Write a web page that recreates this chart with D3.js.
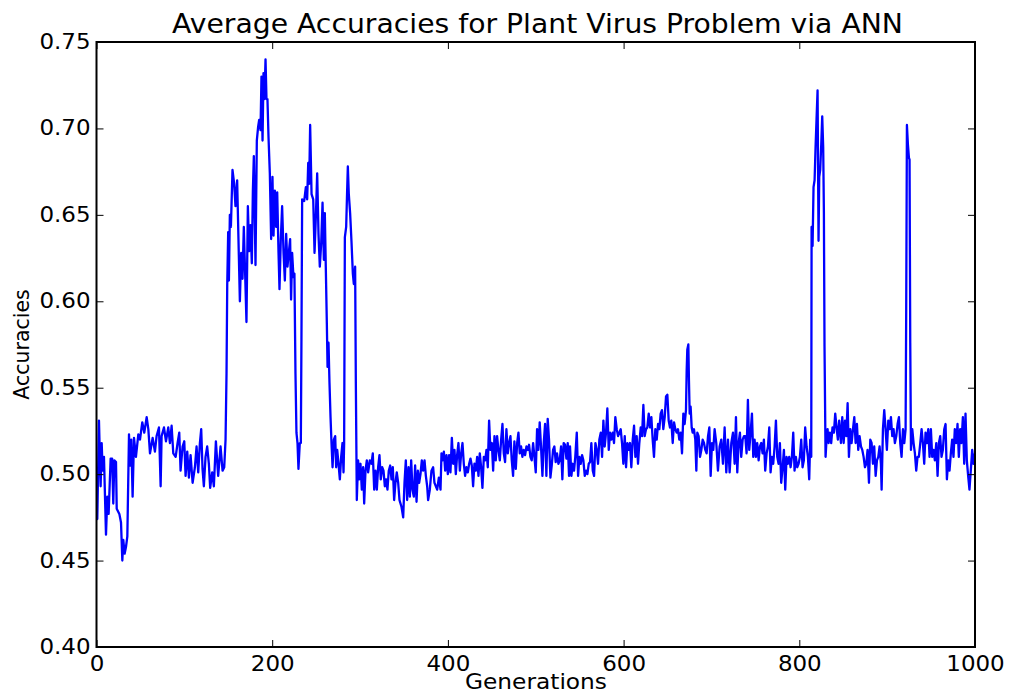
<!DOCTYPE html>
<html>
<head>
<meta charset="utf-8">
<script src="https://cdn.jsdelivr.net/npm/d3@7"></script>
<style>
  body { margin: 0; background: #fff; }
  text { font-family: "DejaVu Sans", sans-serif; }
</style>
</head>
<body>
<svg id="mainsvg" width="1009" height="695"></svg>
<script>
// generations (not every generation, roughly every 1.5)
const generations = [
  0, 0.9, 2.8, 4.7, 5.9, 7, 8.5, 10.8, 12.3, 13.8, 16.1, 17.8, 19.1, 20.3, 22.2, 23, 26, 27.9, 29.4, 30.5,
  32, 33.6, 35.1, 37, 38.1, 39.6, 41.1, 42.7, 44.9, 47.6, 49.5, 52.1, 54.4, 57.1, 59, 60.9, 63.9, 66.5, 68.4, 71.1,
  73, 74.1, 76.8, 79.1, 81.7, 83.6, 85.5, 87.4, 90.1, 92.3, 94.2, 95.7, 98, 99.9, 101.4, 103.3, 105.2, 107.1, 109.4, 112,
  113.9, 115.8, 117.7, 119.2, 120.7, 122.2, 124.1, 126, 127.9, 129.4, 131.7, 133.6, 135.9, 138.5, 141.2, 143.5, 145.4, 146.9, 148, 148.8,
  149.9, 150.7, 151.8, 153, 154.8, 156.7, 158.2, 160.1, 161.6, 163.2, 164.7, 166.2, 167.7, 169.2, 170.7, 172.3, 173.8, 175.3, 176.8, 178,
  179.1, 181, 182.5, 184, 185.2, 186.7, 187.8, 189, 190.1, 191.2, 192.4, 193.5, 194.6, 195.8, 197.3, 198.8, 200.3, 201.5, 203, 204.5,
  205.7, 207.2, 208.3, 209.8, 211.3, 212.9, 214.4, 215.9, 217.4, 218.9, 220.4, 221.5, 222.7, 224.2, 225.3, 226.5, 227.6, 228.8, 229.9, 231.4,
  232.6, 233.3, 234.1, 236.4, 238.3, 239.8, 241, 242.1, 243.2, 244.8, 246.7, 248.2, 249.7, 251.2, 252.7, 254.2, 255.8, 257.3, 258.8, 259.9,
  261, 262.2, 263, 264.1, 265.2, 266.4, 267.5, 268.7, 270.2, 271.7, 272.8, 274, 275.5, 277, 278.5, 280, 281.2, 281.9, 282.7, 284.2,
  285.3, 286.1, 287.2, 288.7, 290.3, 291.8, 292.9, 294.4, 295.2, 296.3, 297.8, 299, 300.5, 302, 303.5, 304.7, 306.2, 307.7, 309.2, 311.1,
  313, 314.5, 316.1, 317.6, 319.1, 320.6, 322.1, 323.6, 325.2, 326.7, 328.2, 329.7, 331.2, 332.7, 334.3, 335.8, 337.3, 338.8, 340.3, 341.8,
  343.4, 344.9, 347.2, 349.1, 350.6, 352.1, 353.6, 355.2, 356.7, 358.2, 359.7, 361.2, 362.7, 364.3, 365.8, 367.3, 368.8, 370.3, 371.8, 373.4,
  374.9, 376.4, 377.5, 379.4, 381.3, 383.2, 384.7, 386.3, 387.8, 389.7, 391.6, 392.7, 393.8, 395.4, 396.9, 398.4, 399.9, 401.4, 402.9, 404.5,
  406, 407.5, 409, 410.5, 412, 413.6, 415.1, 416.6, 418.1, 419.6, 421.1, 422.7, 424.2, 425.7, 427.2, 428.7, 430.2, 431.8, 433.3, 434.8,
  436.3, 437.8, 439.3, 440.9, 442.4, 443.9, 445.4, 446.9, 448.4, 450, 451.5, 453, 454.5, 456, 457.5, 459.1, 460.6, 462.1, 463.6, 465.1,
  466.6, 468.2, 469.7, 471.2, 472.7, 474.2, 475.7, 477.3, 478.8, 480.3, 481.8, 483.3, 484.8, 486.3, 487.9, 489.4, 490.9, 492.4, 493.9, 495.4,
  497, 498.5, 500, 501.5, 503, 504.5, 506, 507.6, 509.1, 510.6, 512.1, 513.6, 515.1, 516.7, 518.2, 519.7, 521.2, 522.7, 524.2, 525.8,
  527.3, 528.8, 530.3, 531.8, 533.3, 534.9, 536.4, 537.9, 539, 540.6, 542, 543.6, 545, 546.7, 548.2, 549.7, 551.2, 552.7, 554.2, 555.8,
  557.3, 558.8, 560.3, 561.8, 563.3, 564.9, 566.4, 567.9, 569.4, 570.9, 572.4, 574, 575.5, 577, 578.5, 580, 581.5, 583.1, 584.6, 586.1,
  587.6, 589.1, 590.6, 592.2, 593.7, 595.2, 596.7, 598.2, 599.7, 601.3, 602.8, 604.3, 605.8, 607.3, 608.8, 610.4, 611.9, 613.4, 614.9, 616.4,
  617.9, 619.5, 621, 622.5, 624, 625.5, 627, 628.6, 630.1, 631.6, 633.1, 634.6, 636.1, 637.7, 639.2, 640.7, 642.2, 643.7, 645.2, 646.8,
  648.3, 649.8, 651.3, 652.8, 654.3, 655.9, 657.4, 658.9, 660.4, 661.9, 663.4, 665, 666.5, 668, 669.5, 671, 671.8, 672.5, 673.7, 674.4,
  675.2, 676.3, 677.5, 678.6, 680.1, 681.6, 682.8, 683.9, 685.4, 687, 688.5, 690, 691.5, 693, 694.5, 696.1, 697.6, 699.1, 700.6, 702.1,
  703.6, 705.5, 707.4, 709.3, 711.2, 713.1, 715, 716.9, 718.8, 720.7, 722.6, 724.5, 726.4, 727.9, 729.4, 730.9, 732.4, 733.9, 735.5, 737,
  738.5, 740, 741.5, 743, 744.6, 746.1, 747.6, 749.1, 750.6, 752.1, 753.7, 755.2, 756.7, 758.2, 759.7, 761.2, 762.8, 764.3, 765.8, 767.3,
  768.8, 770.3, 771.9, 773.4, 774.9, 776.4, 777.9, 779.4, 781, 782.5, 784, 785.5, 787, 788.5, 790.1, 791.6, 793.1, 794.6, 796.1, 797.6,
  799.2, 800.7, 802.2, 803.7, 805.2, 806.7, 808.3, 809.8, 811.3, 812.4, 813.6, 814, 815.1, 816.2, 817.4, 818.5, 819.6, 820.8, 821.9, 822.7,
  823.8, 825, 826.1, 827.2, 828, 828.7, 829.9, 831, 832.2, 833.3, 834.8, 836.3, 837.8, 839.4, 840.9, 842.4, 843.9, 845.4, 847.4, 848.9,
  850.5, 852, 853.5, 855, 856.5, 858, 859.5, 861.1, 862.6, 864.1, 865.6, 867.1, 868.6, 870.2, 871.7, 873.2, 874.7, 876.2, 877.7, 879.3,
  880.8, 882.3, 883.8, 885.3, 886.9, 888.4, 889.9, 891.4, 892.9, 893.7, 895.2, 896.7, 898.2, 899.7, 901.3, 902.8, 904.3, 905.8, 907.3, 908.8,
  910.4, 911.9, 913.4, 914.9, 916.4, 918, 919.5, 921, 921.7, 922.5, 923.6, 924.8, 925.5, 926.3, 927.1, 928.6, 930.1, 931.6, 933.1, 934.6,
  936.1, 937.7, 939.2, 940.7, 942.2, 943.7, 945.2, 946.8, 948.3, 949.8, 951.3, 952.8, 954.3, 955.9, 957.4, 958.9, 960.4, 961.9, 963.4, 965,
  966.5, 968, 969.5, 971, 972.5, 974, 975.5, 977, 978.6, 980.1, 981.6, 983.1, 984.6, 986.2, 987.7, 989.2, 990.7, 992.2, 993.7, 995.2,
  996.8, 998.3, 999.5
]

const accuracies = [
  0.474, 0.474, 0.531, 0.493, 0.518, 0.502, 0.510, 0.465, 0.487, 0.477, 0.509, 0.509, 0.483, 0.508, 0.507, 0.480, 0.477, 0.472, 0.450, 0.462,
  0.454, 0.458, 0.464, 0.523, 0.505, 0.520, 0.487, 0.521, 0.510, 0.523, 0.520, 0.530, 0.524, 0.533, 0.526, 0.512, 0.521, 0.513, 0.522, 0.527,
  0.493, 0.522, 0.527, 0.519, 0.527, 0.518, 0.528, 0.512, 0.510, 0.518, 0.524, 0.502, 0.516, 0.519, 0.499, 0.513, 0.498, 0.511, 0.495, 0.504,
  0.516, 0.501, 0.518, 0.526, 0.503, 0.493, 0.510, 0.516, 0.506, 0.492, 0.501, 0.493, 0.519, 0.499, 0.516, 0.502, 0.504, 0.520, 0.558, 0.609,
  0.640, 0.612, 0.650, 0.643, 0.676, 0.668, 0.655, 0.670, 0.636, 0.600, 0.628, 0.613, 0.643, 0.616, 0.588, 0.655, 0.629, 0.644, 0.622, 0.664,
  0.684, 0.621, 0.693, 0.701, 0.705, 0.699, 0.730, 0.693, 0.732, 0.717, 0.740, 0.717, 0.717, 0.695, 0.674, 0.636, 0.672, 0.638, 0.664, 0.643,
  0.663, 0.628, 0.607, 0.636, 0.655, 0.628, 0.612, 0.639, 0.620, 0.628, 0.636, 0.601, 0.628, 0.614, 0.616, 0.558, 0.524, 0.518, 0.503, 0.518,
  0.518, 0.578, 0.659, 0.658, 0.666, 0.659, 0.680, 0.668, 0.702, 0.662, 0.659, 0.628, 0.649, 0.674, 0.639, 0.620, 0.634, 0.657, 0.624, 0.651,
  0.620, 0.587, 0.562, 0.576, 0.553, 0.533, 0.518, 0.504, 0.520, 0.522, 0.504, 0.514, 0.506, 0.497, 0.510, 0.518, 0.501, 0.518, 0.637, 0.643,
  0.664, 0.678, 0.662, 0.651, 0.634, 0.616, 0.610, 0.620, 0.553, 0.485, 0.508, 0.497, 0.506, 0.491, 0.504, 0.483, 0.502, 0.508, 0.501, 0.508,
  0.506, 0.512, 0.491, 0.502, 0.491, 0.504, 0.511, 0.497, 0.504, 0.502, 0.493, 0.497, 0.491, 0.502, 0.505, 0.497, 0.504, 0.485, 0.495, 0.501,
  0.495, 0.485, 0.481, 0.475, 0.495, 0.508, 0.485, 0.504, 0.487, 0.508, 0.491, 0.487, 0.505, 0.484, 0.502, 0.495, 0.500, 0.508, 0.502, 0.508,
  0.499, 0.493, 0.485, 0.491, 0.502, 0.504, 0.495, 0.493, 0.491, 0.498, 0.491, 0.512, 0.508, 0.513, 0.502, 0.511, 0.500, 0.511, 0.501, 0.521,
  0.506, 0.514, 0.500, 0.511, 0.518, 0.502, 0.512, 0.518, 0.506, 0.499, 0.504, 0.501, 0.506, 0.509, 0.505, 0.493, 0.506, 0.502, 0.510, 0.499,
  0.512, 0.504, 0.492, 0.510, 0.508, 0.514, 0.504, 0.531, 0.514, 0.518, 0.502, 0.522, 0.508, 0.522, 0.514, 0.508, 0.520, 0.529, 0.512, 0.507,
  0.526, 0.512, 0.518, 0.522, 0.508, 0.499, 0.519, 0.503, 0.518, 0.524, 0.512, 0.516, 0.510, 0.514, 0.511, 0.516, 0.514, 0.517, 0.510, 0.508,
  0.518, 0.510, 0.501, 0.526, 0.514, 0.530, 0.516, 0.499, 0.518, 0.529, 0.499, 0.532, 0.520, 0.498, 0.505, 0.514, 0.516, 0.507, 0.512, 0.506,
  0.508, 0.516, 0.497, 0.518, 0.517, 0.509, 0.518, 0.499, 0.516, 0.499, 0.506, 0.502, 0.510, 0.524, 0.499, 0.510, 0.506, 0.511, 0.508, 0.499,
  0.502, 0.500, 0.506, 0.507, 0.518, 0.502, 0.499, 0.518, 0.514, 0.506, 0.520, 0.524, 0.510, 0.531, 0.516, 0.524, 0.538, 0.514, 0.524, 0.520,
  0.524, 0.518, 0.533, 0.526, 0.522, 0.524, 0.526, 0.518, 0.506, 0.522, 0.504, 0.518, 0.514, 0.518, 0.504, 0.520, 0.528, 0.510, 0.522, 0.506,
  0.518, 0.527, 0.522, 0.540, 0.522, 0.526, 0.527, 0.535, 0.527, 0.533, 0.520, 0.510, 0.526, 0.520, 0.529, 0.526, 0.535, 0.537, 0.526, 0.533,
  0.545, 0.546, 0.531, 0.527, 0.531, 0.518, 0.530, 0.526, 0.524, 0.526, 0.520, 0.524, 0.512, 0.535, 0.529, 0.537, 0.560, 0.572, 0.575, 0.554,
  0.535, 0.539, 0.527, 0.524, 0.526, 0.520, 0.502, 0.524, 0.522, 0.510, 0.514, 0.520, 0.518, 0.514, 0.512, 0.522, 0.527, 0.499, 0.518, 0.514,
  0.526, 0.518, 0.502, 0.516, 0.520, 0.506, 0.527, 0.501, 0.520, 0.501, 0.518, 0.524, 0.506, 0.533, 0.501, 0.518, 0.524, 0.510, 0.520, 0.522,
  0.522, 0.512, 0.543, 0.514, 0.524, 0.535, 0.510, 0.520, 0.510, 0.518, 0.508, 0.516, 0.518, 0.512, 0.520, 0.502, 0.512, 0.516, 0.527, 0.501,
  0.510, 0.506, 0.516, 0.531, 0.510, 0.506, 0.518, 0.495, 0.504, 0.514, 0.491, 0.510, 0.506, 0.510, 0.504, 0.510, 0.524, 0.502, 0.510, 0.504,
  0.506, 0.510, 0.520, 0.504, 0.508, 0.527, 0.516, 0.510, 0.497, 0.520, 0.510, 0.643, 0.632, 0.666, 0.670, 0.689, 0.705, 0.722, 0.635, 0.672,
  0.676, 0.691, 0.707, 0.689, 0.651, 0.574, 0.510, 0.520, 0.526, 0.518, 0.524, 0.518, 0.527, 0.524, 0.535, 0.527, 0.520, 0.531, 0.518, 0.533,
  0.518, 0.531, 0.522, 0.541, 0.510, 0.526, 0.518, 0.526, 0.533, 0.518, 0.529, 0.514, 0.522, 0.516, 0.514, 0.510, 0.504, 0.506, 0.514, 0.495,
  0.520, 0.518, 0.506, 0.516, 0.499, 0.508, 0.510, 0.516, 0.506, 0.491, 0.526, 0.537, 0.526, 0.514, 0.531, 0.526, 0.533, 0.522, 0.526, 0.518,
  0.522, 0.529, 0.533, 0.518, 0.510, 0.526, 0.518, 0.526, 0.595, 0.702, 0.691, 0.683, 0.682, 0.576, 0.514, 0.526, 0.518, 0.512, 0.502, 0.510,
  0.510, 0.518, 0.526, 0.518, 0.506, 0.524, 0.518, 0.526, 0.510, 0.526, 0.510, 0.514, 0.508, 0.518, 0.499, 0.518, 0.522, 0.510, 0.514, 0.526,
  0.529, 0.497, 0.508, 0.502, 0.512, 0.520, 0.510, 0.526, 0.518, 0.529, 0.510, 0.526, 0.518, 0.533, 0.506, 0.535, 0.508, 0.499, 0.491, 0.502,
  0.514, 0.506, 0.512
]

const xTicks = [0, 200, 400, 600, 800, 1000]
const yTicks = [0.40, 0.45, 0.50, 0.55, 0.60, 0.65, 0.70, 0.75]
const title = 'Average Accuracies for Plant Virus Problem via ANN'
const xLabel = 'Generations'
const yLabel = 'Accuracies'

let margin = {left: 96.5, right: 975, top: 42, bottom: 647}

const svg = d3.select('#mainsvg')

let x = d3.scaleLinear().domain([0, 1000]).range([margin.left, margin.right])
let y = d3.scaleLinear().domain([0.40, 0.75]).range([margin.bottom, margin.top])

let data = generations.map((g, i) => [g, accuracies[i]])

svg.append('path')
  .datum(data)
  .attr('d', d3.line().x(d => x(d[0])).y(d => y(d[1])))
  .attr('fill', 'none')
  .attr('stroke', '#0000ff')
  .attr('stroke-width', 2.3)
  .attr('stroke-linejoin', 'round')

// the reference text is a bit wider than plain DejaVu, stretch it sideways
function widen(sel, k){
  sel.each(function(){
    let w = this.getComputedTextLength()
    d3.select(this).attr('textLength', w * k).attr('lengthAdjust', 'spacingAndGlyphs')
  })
}

// ticks point inward on all four sides, like old matplotlib
let tickLen = 7
let tickFont = '20.5px'

let bottomAxis = d3.axisBottom(x).tickValues(xTicks).tickSizeInner(-tickLen).tickSizeOuter(0).tickPadding(9).tickFormat(d3.format('d'))
let topAxis = d3.axisTop(x).tickValues(xTicks).tickSizeInner(-tickLen).tickSizeOuter(0).tickFormat('')
let leftAxis = d3.axisLeft(y).tickValues(yTicks).tickSizeInner(-tickLen).tickSizeOuter(0).tickPadding(6).tickFormat(d3.format('.2f'))
let rightAxis = d3.axisRight(y).tickValues(yTicks).tickSizeInner(-tickLen).tickSizeOuter(0).tickFormat('')

function styleAxis(g){
  g.select('.domain').remove()
  g.selectAll('.tick line').attr('stroke', '#000').attr('stroke-width', 1)
  g.selectAll('.tick text').attr('fill', '#000').style('font-size', tickFont).style('font-family', '"DejaVu Sans", sans-serif')
  g.selectAll('.tick text').call(widen, 1.12)
}

svg.append('g').attr('transform', `translate(0,${margin.bottom})`).call(bottomAxis).call(styleAxis)
svg.append('g').attr('transform', `translate(0,${margin.top})`).call(topAxis).call(styleAxis)
svg.append('g').attr('transform', `translate(${margin.left},0)`).call(leftAxis).call(styleAxis)
svg.append('g').attr('transform', `translate(${margin.right},0)`).call(rightAxis).call(styleAxis)

svg.append('rect')
  .attr('x', margin.left)
  .attr('y', margin.top)
  .attr('width', margin.right - margin.left)
  .attr('height', margin.bottom - margin.top)
  .attr('fill', 'none')
  .attr('stroke', '#000')
  .attr('stroke-width', 2)

svg.append('text')
  .attr('x', 537.5)
  .attr('y', 33)
  .attr('text-anchor', 'middle')
  .style('font-size', '26.5px')
  .attr('textLength', 731)
  .attr('lengthAdjust', 'spacingAndGlyphs')
  .text(title)

svg.append('text')
  .attr('x', 536)
  .attr('y', 689)
  .attr('text-anchor', 'middle')
  .style('font-size', '20.5px')
  .attr('textLength', 142)
  .attr('lengthAdjust', 'spacingAndGlyphs')
  .text(xLabel)

svg.append('text')
  .attr('transform', `translate(29,${(margin.top + margin.bottom) / 2}) rotate(-90)`)
  .attr('text-anchor', 'middle')
  .style('font-size', '20.5px')
  .text(yLabel)
</script>
</body>
</html>
